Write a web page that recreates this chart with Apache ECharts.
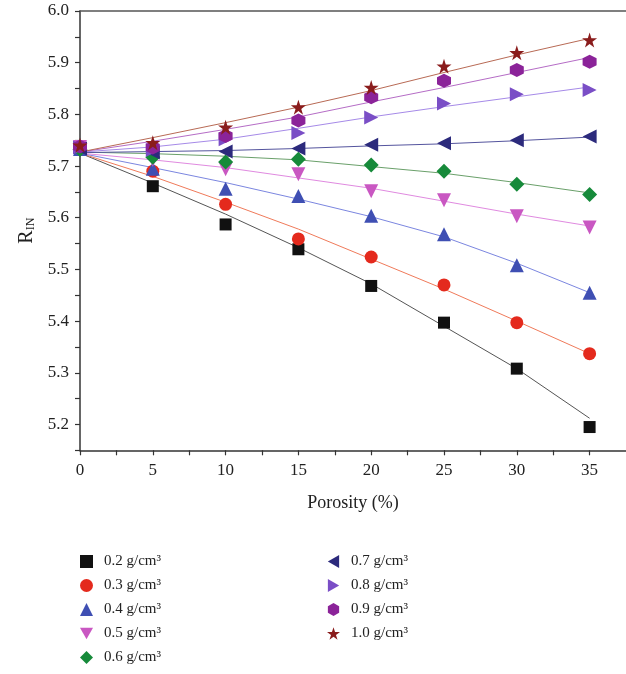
<!DOCTYPE html>
<html>
<head>
<meta charset="utf-8">
<script src="https://cdn.jsdelivr.net/npm/echarts@6/dist/echarts.min.js"></script>
<style>
  html, body { margin: 0; padding: 0; background: #fff; }
  #chart { width: 626px; height: 674px; }
</style>
</head>
<body>
<div id="chart"></div>
<script>
const porosity = [0, 5, 10, 15, 20, 25, 30, 35];
const densities = ['0.2 g/cm³', '0.3 g/cm³', '0.4 g/cm³', '0.5 g/cm³', '0.6 g/cm³',
  '0.7 g/cm³', '0.8 g/cm³', '0.9 g/cm³', '1.0 g/cm³'];

// measured points
const d02 = [5.735, 5.661, 5.587, 5.539, 5.468, 5.397, 5.308, 5.195];
const d03 = [5.736, 5.690, 5.626, 5.559, 5.524, 5.470, 5.397, 5.337];
const d04 = [5.733, 5.695, 5.656, 5.642, 5.604, 5.568, 5.508, 5.455];
const d05 = [5.737, 5.712, 5.694, 5.684, 5.651, 5.634, 5.603, 5.581];
const d06 = [5.732, 5.717, 5.708, 5.713, 5.702, 5.690, 5.665, 5.645];
const d07 = [5.734, 5.726, 5.728, 5.734, 5.741, 5.744, 5.750, 5.757];
const d08 = [5.736, 5.731, 5.752, 5.764, 5.794, 5.821, 5.839, 5.847];
const d09 = [5.738, 5.736, 5.758, 5.788, 5.833, 5.865, 5.886, 5.902];
const d10 = [5.740, 5.745, 5.775, 5.814, 5.852, 5.893, 5.919, 5.944];

// fitted curves
const f02 = [5.725, 5.667, 5.607, 5.542, 5.472, 5.390, 5.308, 5.212];
const f03 = [5.725, 5.680, 5.630, 5.578, 5.520, 5.462, 5.400, 5.337];
const f04 = [5.725, 5.697, 5.668, 5.636, 5.602, 5.563, 5.512, 5.455];
const f05 = [5.725, 5.712, 5.697, 5.677, 5.657, 5.632, 5.607, 5.584];
const f06 = [5.727, 5.724, 5.719, 5.712, 5.699, 5.686, 5.668, 5.648];
const f07 = [5.726, 5.728, 5.730, 5.734, 5.739, 5.743, 5.749, 5.756];
const f08 = [5.727, 5.737, 5.752, 5.773, 5.795, 5.815, 5.834, 5.853];
const f09 = [5.727, 5.748, 5.771, 5.795, 5.824, 5.852, 5.881, 5.910];
const f10 = [5.727, 5.755, 5.784, 5.814, 5.846, 5.881, 5.915, 5.947];

const measured = [d02, d03, d04, d05, d06, d07, d08, d09, d10];
const fitted = [f02, f03, f04, f05, f06, f07, f08, f09, f10];

const hexPath = 'path://M0,-1L0.866,-0.5L0.866,0.5L0,1L-0.866,0.5L-0.866,-0.5Z';
const starPath = 'path://M0,-1L0.2245,-0.309L0.951,-0.309L0.363,0.118L0.588,0.809L0,0.382L-0.588,0.809L-0.363,0.118L-0.951,-0.309L-0.2245,-0.309Z';
const downTri = 'path://M-1,-0.87L1,-0.87L0,0.87Z';
const leftTri = 'path://M0.87,-1L0.87,1L-0.87,0Z';
const rightTri = 'path://M-0.87,-1L-0.87,1L0.87,0Z';

const markStyle = [
  { symbol: 'rect', size: 12, color: '#111111', line: '#555555' },
  { symbol: 'circle', size: 13, color: '#e42a1d', line: '#f07a5a' },
  { symbol: 'triangle', size: 14, color: '#3f4fb3', line: '#7b86e0' },
  { symbol: downTri, size: 14, color: '#c957c2', line: '#e08ae0' },
  { symbol: 'diamond', size: 15, color: '#168a3a', line: '#6aa06a' },
  { symbol: leftTri, size: 14, color: '#2c2a7c', line: '#55559e' },
  { symbol: rightTri, size: 14, color: '#7a4ec6', line: '#a68ae8' },
  { symbol: hexPath, size: 14, color: '#8b2399', line: '#b56cc6' },
  { symbol: starPath, size: 15, color: '#8a1c1c', line: '#b86a55' }
];

const series = [];
densities.forEach((name, i) => {
  const st = markStyle[i];
  series.push({
    name: 'fit ' + name,
    type: 'line',
    data: porosity.map((p, k) => [p, fitted[i][k]]),
    symbol: 'none',
    lineStyle: { color: st.line, width: 1 },
    z: 1,
    silent: true
  });
});
densities.forEach((name, i) => {
  const st = markStyle[i];
  series.push({
    name: name,
    type: 'scatter',
    data: porosity.map((p, k) => [p, measured[i][k]]),
    symbol: st.symbol,
    symbolSize: st.size,
    itemStyle: { color: st.color, opacity: 1 },
    z: 3
  });
});

const serif = 'Liberation Serif';
const chart = echarts.init(document.getElementById('chart'));

const legendBase = {
  orient: 'vertical',
  top: 554,
  height: 125,
  padding: 0,
  itemWidth: 13,
  itemHeight: 13,
  itemGap: 9,
  selectedMode: false,
  textStyle: { fontFamily: serif, fontSize: 15, color: '#222', lineHeight: 15, padding: [0, 0, 0, 6] }
};

chart.setOption({
  animation: false,
  backgroundColor: '#fff',
  grid: { left: 80, top: 11, width: 550, height: 439.3 },
  legend: [
    Object.assign({}, legendBase, { left: 80, data: densities.slice(0, 5) }),
    Object.assign({}, legendBase, { left: 327, data: densities.slice(5) })
  ],
  xAxis: [{
    type: 'value',
    min: 0,
    max: 37.5,
    interval: 2.5,
    name: 'Porosity (%)',
    nameLocation: 'middle',
    nameGap: 44,
    nameTextStyle: { fontFamily: serif, fontSize: 18, color: '#222' },
    axisLine: { lineStyle: { color: '#333', width: 1.5 } },
    axisTick: { length: 5, lineStyle: { color: '#333', width: 1.2 } },
    splitLine: { show: false },
    axisLabel: {
      margin: 12,
      fontFamily: serif,
      fontSize: 17,
      color: '#222',
      showMaxLabel: false,
      formatter: v => (Math.round(v * 10) % 50 === 0 ? String(v) : '')
    }
  }, {
    type: 'value',
    position: 'top',
    min: 0,
    max: 37.5,
    axisLine: { show: true, lineStyle: { color: '#555', width: 1.5 } },
    axisTick: { show: false },
    axisLabel: { show: false },
    splitLine: { show: false }
  }],
  yAxis: {
    type: 'value',
    min: 5.15,
    max: 6.0,
    interval: 0.05,
    name: 'R{sub|IN}',
    nameLocation: 'middle',
    nameRotate: 90,
    nameGap: 42,
    nameTextStyle: {
      fontFamily: serif, fontSize: 20, color: '#222',
      rich: { sub: { fontFamily: serif, fontSize: 12, color: '#222', verticalAlign: 'bottom', padding: [8, 0, 0, 0] } }
    },
    axisLine: { show: true, lineStyle: { color: '#333', width: 1.5 } },
    axisTick: { show: true, length: 5, lineStyle: { color: '#333', width: 1.2 } },
    splitLine: { show: false },
    axisLabel: {
      margin: 11,
      fontFamily: serif,
      fontSize: 17,
      color: '#222',
      formatter: v => (Math.round(v * 100) % 10 === 0 ? v.toFixed(1) : '')
    }
  },
  series: series
});
</script>
</body>
</html>
